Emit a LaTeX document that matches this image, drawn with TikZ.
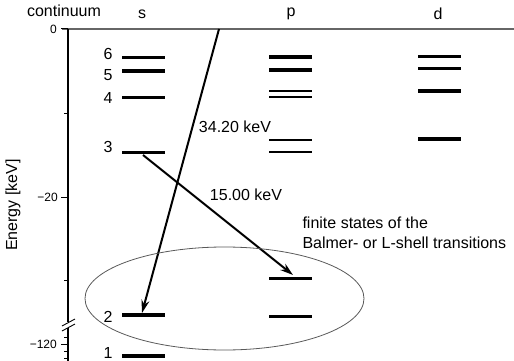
\documentclass[tikz,border=0pt]{standalone}
\usepackage{fontspec}
\setmainfont{Liberation Sans}
\usetikzlibrary{arrows.meta}
\tikzset{
  level/.style={line width=3pt},
  tick/.style={line width=1pt},
  ticklabel/.style={anchor=east,inner sep=0pt,font=\fontsize{12}{14}\selectfont},
  trans/.style={->,line width=2pt}
}
\begin{document}
\begin{tikzpicture}[x=1pt,y=-1pt,>={Stealth[length=13pt,width=8pt]}, font=\fontsize{16}{20}\selectfont, line join=round]
	\def\xs{122} \def\xp{269} \def\xd{418} \def\len{43} % columns s, p, d
	\def\yz{29} \def\xa{68} % continuum and axis
	\useasboundingbox (0,0) rectangle (514,361);
	% axis
	\draw[gray!80!black,line width=1.4pt] (62,\yz)--(514,\yz);
	\draw[line width=1.1pt] (\xa,\yz)--(\xa,322) (\xa,328)--(\xa,361);
	\draw[line width=0.9pt] (62,326)--(75,319) (62,331)--(75,324);
	\foreach \y in {29,197,344}
		\draw[tick] (61,\y)--(\xa,\y);
	\foreach \y in {113,280,337,351,358}
		\draw[tick] (64,\y)--(\xa,\y);
	\node[ticklabel] (t0) at (57,29) {0};
	\node[ticklabel] (t20) at (58,197) {−20};
	\node[ticklabel] (t120) at (57,344) {−120};
	\node[rotate=90] (energy) at (13,205) {Energy [keV]};
	\node (cont) at (64,11) {continuum};
	\node (cs) at (142,14) {s};
	\node (cp) at (291,14) {p};
	\node (cd) at (438,14) {d};
	% levels
	\foreach \y/\w in {58/3,71/3.5,97/3,152/3,315/3.5,356/3.5}
		\draw[level,line width=\w pt] (\xs,\y)--++(\len,0);
	\foreach \y/\w in {57/3.5,70/4,91/2.5,97/2.5,140/2.5,152/2.5,278/3,316/3}
		\draw[level,line width=\w pt] (\xp,\y)--++(\len,0);
	\foreach \y/\w in {57/3,69/3,91/3.5,139/4}
		\draw[level,line width=\w pt] (\xd,\y)--++(\len,0);
	\foreach \y/\n in {54/6,75/5,98/4,147/3,317/2,353/1}
		\node (n\n) at (108,\y) {\n};
	% transitions
	\coordinate (top) at (219,\yz);
	\coordinate (s2) at (142,313);
	\coordinate (s3) at (143,155);
	\coordinate (p2) at (293,275);
	\draw[trans] (top)--(s2);
	\draw[trans] (s3)--(p2);
	\node (e34) at (235,127) {34.20 keV};
	\node (e15) at (246,195) {15.00 keV};
	\draw[gray!70!black,line width=0.8pt] (224.5,298.5) ellipse [x radius=139.5,y radius=51.5];
	\node[anchor=west,align=left] (fin) at (299,233) {finite states of the\\Balmer- or L-shell transitions};
\end{tikzpicture}
\end{document}
